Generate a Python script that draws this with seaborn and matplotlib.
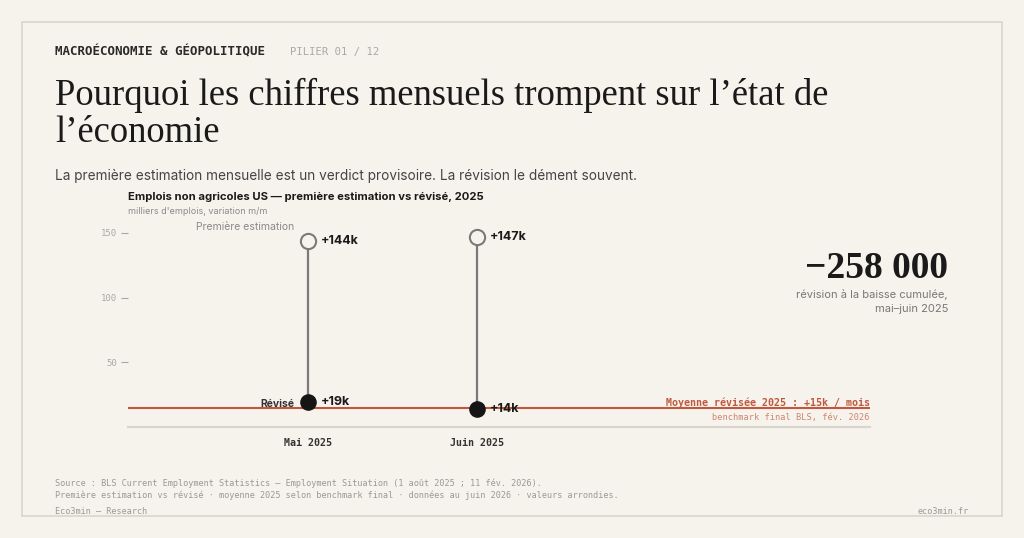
import matplotlib
matplotlib.use("Agg")
import matplotlib.pyplot as plt
import seaborn as sns
import pandas as pd
from matplotlib.patches import Rectangle

# === DATA ===
months = ["Mai 2025", "Juin 2025"]
first_estimate = [144, 147]
revised = [19, 14]
first_labels = ["+144k", "+147k"]
revised_labels = ["+19k", "+14k"]
avg_revised_2025 = 15
y_ticks = [50, 100, 150]

BG = "#f6f3ec"
DARK = "#1a1a1a"
GREY = "#8a8a8a"
RED = "#c0583f"
MONO = "DejaVu Sans Mono"
SANS = "Inter"
SERIF = "Liberation Serif"

sns.set_theme(style="white")
plt.rcParams["font.family"] = [SANS, "DejaVu Sans"]

W, H = 1024, 538


def fx(px):
    return px / W


def fy(px):
    return 1 - px / H


fig = plt.figure(figsize=(W / 100, H / 100), dpi=100, facecolor=BG)

# frame
fig.patches.append(Rectangle((fx(22), fy(516)), fx(1002) - fx(22), fy(22) - fy(516),
                             transform=fig.transFigure, fill=False,
                             edgecolor="#d9d5cc", linewidth=1.2))

# === HEADER ===
fig.text(fx(55), fy(52), "MACROÉCONOMIE & GÉOPOLITIQUE", family=MONO, weight="bold",
         size=9.0, color="#2a2a2a", va="center")
fig.text(fx(290), fy(52), "PILIER 01 / 12", family=MONO, size=7.6, color="#a8a8a8", va="center")
fig.text(fx(55), fy(78), "Pourquoi les chiffres mensuels trompent sur l’état de\nl’économie",
         family=SERIF, size=26.4, color=DARK, va="top", linespacing=1.1)
fig.text(fx(55), fy(176), "La première estimation mensuelle est un verdict provisoire. La révision le dément souvent.",
         size=9.8, color="#444444", va="center")
fig.text(fx(128), fy(197), "Emplois non agricoles US — première estimation vs révisé, 2025",
         size=8.1, weight="bold", color=DARK, va="center")
fig.text(fx(128), fy(211), "milliers d'emplois, variation m/m", size=6.5, color=GREY, va="center")

# === CHART ===
df = pd.DataFrame({"mois": months, "premiere": first_estimate, "revise": revised})
df["pos"] = range(len(df))

ax = fig.add_axes([fx(128), fy(427), fx(870) - fx(128), fy(220) - fy(427)])
ax.set_facecolor(BG)
ax.patch.set_alpha(0)

ax.vlines(df["pos"], df["revise"], df["premiere"], color="#7a7a7a", linewidth=1.6, zorder=2)
ax.axhline(avg_revised_2025, color=RED, linewidth=1.5, zorder=1)
sns.scatterplot(data=df, x="pos", y="premiere", ax=ax, s=120, color=BG,
                edgecolor="#7a7a7a", linewidth=1.5, zorder=3, legend=False)
sns.scatterplot(data=df, x="pos", y="revise", ax=ax, s=120, color="#151515",
                edgecolor="#151515", linewidth=1, zorder=4, legend=False)

for i, row in df.iterrows():
    ax.annotate(first_labels[i], (row["pos"], row["premiere"]), xytext=(9, 0),
                textcoords="offset points", size=9, weight="bold", color=DARK, va="center")
    ax.annotate(revised_labels[i], (row["pos"], row["revise"]), xytext=(9, 0),
                textcoords="offset points", size=9, weight="bold", color=DARK, va="center")

ax.annotate("Révisé", (0, revised[0]), xytext=(-10, -1), textcoords="offset points",
            size=7.5, weight="bold", color="#333333", ha="right", va="center")
ax.annotate("Première estimation", (0, first_estimate[0]), xytext=(-45, 10),
            textcoords="offset points", size=7.5, color=GREY, ha="center", va="center")

ax.text(1, avg_revised_2025, "Moyenne révisée 2025 : +15k / mois", transform=ax.get_yaxis_transform(),
        family=MONO, weight="bold", size=7.2, color=RED, ha="right", va="bottom")
ax.annotate("benchmark final BLS, fév. 2026", (1, avg_revised_2025), xycoords=ax.get_yaxis_transform(),
            xytext=(0, -7), textcoords="offset points",
            family=MONO, size=6.2, color="#cf8571", ha="right", va="center")

ax.set_xlim(-1.065, 3.325)
ax.set_ylim(0, 160)
ax.set_xticks(df["pos"])
ax.set_xticklabels(months, family=MONO, weight="bold", size=7.2, color="#333333")
ax.set_yticks(y_ticks)
ax.set_yticklabels([str(t) for t in y_ticks], family=MONO, size=6.5, color="#a8a8a8")
ax.tick_params(axis="y", length=5, width=0.8, color="#a8a8a8", pad=3, left=True)
ax.tick_params(axis="x", length=0, pad=8)
ax.set_xlabel("")
ax.set_ylabel("")
for side in ["top", "right", "left"]:
    ax.spines[side].set_visible(False)
ax.spines["bottom"].set_color("#d9d5cc")
ax.spines["bottom"].set_linewidth(1.5)

# === CALLOUT ===
fig.text(fx(948), fy(269), "−258 000", family=SERIF, weight="bold", size=27, color=DARK,
         ha="right", va="center")
fig.text(fx(948), fy(295), "révision à la baisse cumulée,", size=8, color="#777777",
         ha="right", va="center")
fig.text(fx(948), fy(309), "mai–juin 2025", size=8, color="#777777", ha="right", va="center")

# === FOOTER ===
fig.text(fx(55), fy(483), "Source : BLS Current Employment Statistics — Employment Situation (1 août 2025 ; 11 fév. 2026).",
         family=MONO, size=6.15, color="#999999", va="center")
fig.text(fx(55), fy(495), "Première estimation vs révisé · moyenne 2025 selon benchmark final · données au juin 2026 · valeurs arrondies.",
         family=MONO, size=6.15, color="#999999", va="center")
fig.text(fx(55), fy(511), "Eco3min — Research", family=MONO, size=6.15, color="#999999", va="center")
fig.text(fx(969), fy(511), "eco3min.fr", family=MONO, size=6.15, color="#999999", ha="right", va="center")

fig.savefig("out.png", dpi=100, facecolor=BG)
